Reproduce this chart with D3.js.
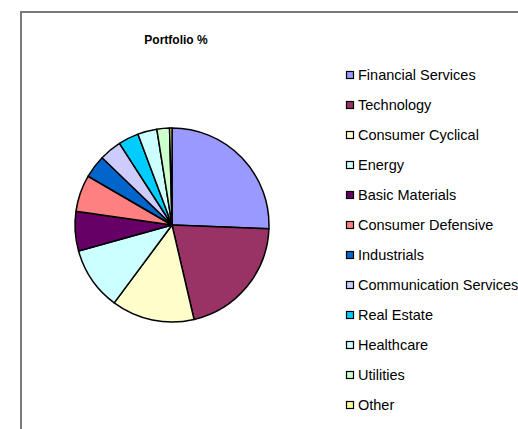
<!DOCTYPE html>
<html>
<head>
<meta charset="utf-8">
<script src="https://cdn.jsdelivr.net/npm/d3@7"></script>
<style>
  body { margin: 0; background: #fff; }
  svg { display: block; }
</style>
</head>
<body>
<svg id="chart" width="518" height="429"></svg>
<script>
var sectors = ["Financial Services", "Technology", "Consumer Cyclical", "Energy", "Basic Materials",
    "Consumer Defensive", "Industrials", "Communication Services", "Real Estate", "Healthcare",
    "Utilities", "Other"];
var weights = [25.6, 20.7, 13.8, 10.5, 6.6, 6.1, 3.8, 3.7, 3.4, 3.2, 2.1, 0.4];
var colors = ["#9999ff", "#993366", "#ffffcc", "#ccffff", "#660066", "#ff8080",
    "#0066cc", "#ccccff", "#00ccff", "#ccffff", "#ccffcc", "#ffff99"];

var chart_title = "Portfolio %";
var svg = d3.select("#chart");
var center_x = 172, center_y = 225, radius = 97;

var slices = sectors.map((d, i) => ({name: d, value: weights[i], color: colors[i]}));

function drawFrame(){
    svg.append("rect")
    .attr("x", 21)
    .attr("y", 12)
    .attr("width", 700)
    .attr("height", 700)
    .style("fill", "#fff")
    .style("stroke", "#7a7a7a")
    .style("stroke-width", 2);

    svg.append("text")
    .attr("x", 176)
    .attr("y", 44)
    .attr("text-anchor", "middle")
    .attr("font-family", "Arial, 'Liberation Sans'")
    .attr("font-size", "12px")
    .attr("font-weight", "bold")
    .text(chart_title);
}

function drawPie(){
    var pie = d3.pie().sort(null).value(d => d.value);
    var arc = d3.arc().innerRadius(0).outerRadius(radius);

    svg.append("g")
    .attr("transform", "translate(" + center_x + "," + center_y + ")")
    .selectAll("path.slice")
    .data(pie(slices))
    .enter()
    .append("path")
    .attr("class", "slice")
    .attr("d", arc)
    .style("fill", d => d.data.color)
    .style("stroke", "#000")
    .style("stroke-width", 1.5)
    .style("stroke-linejoin", "round");
}

function drawLegend(){
    var row_y = d3.scalePoint().domain(sectors).range([75, 405]);

    var items = svg.selectAll("g.legend-item")
    .data(slices)
    .enter()
    .append("g")
    .attr("class", "legend-item")
    .attr("transform", d => "translate(346," + row_y(d.name) + ")");

    items.append("rect")
    .attr("x", 0.5)
    .attr("y", -3.5)
    .attr("width", 7)
    .attr("height", 7)
    .style("fill", d => d.color)
    .style("stroke", "#000")
    .style("stroke-width", 1.2);

    items.append("text")
    .attr("x", 12)
    .attr("y", 5)
    .attr("font-family", "Arial, 'Liberation Sans'")
    .attr("font-size", "14.5px")
    .text(d => d.name);
}

drawFrame();
drawPie();
drawLegend();
</script>
</body>
</html>
